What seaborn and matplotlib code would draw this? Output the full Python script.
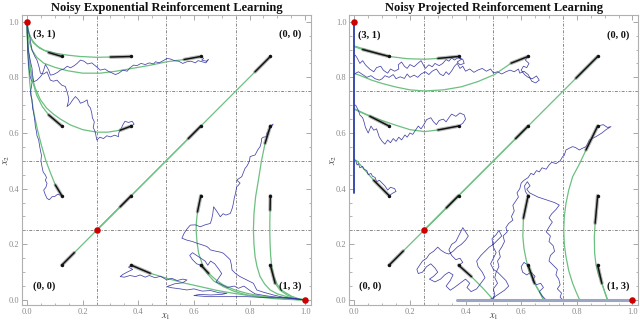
import numpy as np
import pandas as pd
import matplotlib
matplotlib.use("Agg")
import matplotlib.pyplot as plt
import seaborn as sns

# ---------------- data: left panel (exponential) ----------------
exp_title = "Noisy Exponential Reinforcement Learning"
proj_title = "Noisy Projected Reinforcement Learning"

exp_green_1 = [(0.375,0.875),(0.30,0.873),(0.25,0.872),(0.19,0.875),(0.144,0.880),(0.10,0.887),(0.06,0.898),(0.035,0.914),(0.018,0.934),(0.008,0.955),(0.003,0.975),(0,1)]
exp_green_2 = [(0.125,0.875),(0.078,0.889),(0.045,0.905),(0.022,0.925),(0.01,0.95),(0.003,0.975),(0,1)]
exp_green_3 = [(0.625,0.875),(0.565,0.864),(0.503,0.856),(0.44,0.843),(0.383,0.833),(0.32,0.822),(0.263,0.815),(0.20,0.815),(0.144,0.824),(0.10,0.836),(0.06,0.851),(0.035,0.872),(0.018,0.898),(0.009,0.925),(0.004,0.950),(0.001,0.975),(0,1)]
exp_green_4 = [(0.375,0.625),(0.335,0.610),(0.29,0.603),(0.251,0.603),(0.20,0.612),(0.156,0.629),(0.12,0.650),(0.096,0.667),(0.07,0.69),(0.048,0.72),(0.03,0.76),(0.018,0.80),(0.01,0.85),(0.004,0.91),(0.001,0.96),(0,1)]
exp_green_5 = [(0.125,0.625),(0.078,0.665),(0.055,0.695),(0.035,0.735),(0.022,0.78),(0.012,0.83),(0.005,0.89),(0.001,0.95),(0,1)]
exp_green_6 = [(0.125,0.375),(0.102,0.413),(0.085,0.455),(0.068,0.50),(0.052,0.555),(0.038,0.61),(0.026,0.665),(0.017,0.72),(0.01,0.78),(0.005,0.85),(0.002,0.92),(0,1)]
exp_green_7 = [(0.875,0.875),(0.82,0.82),(0.25,0.25)]
exp_green_8 = [(0.625,0.625),(0.58,0.58),(0.25,0.25)]
exp_green_9 = [(0.375,0.375),(0.335,0.335),(0.25,0.25)]
exp_green_10 = [(0.125,0.125),(0.17,0.17),(0.25,0.25)]
exp_green_11 = [(0.875,0.625),(0.856,0.563),(0.843,0.50),(0.832,0.431),(0.822,0.371),(0.816,0.31),(0.814,0.252),(0.816,0.20),(0.82,0.156),(0.827,0.12),(0.838,0.084),(0.854,0.058),(0.874,0.036),(0.90,0.022),(0.934,0.012),(0.965,0.005),(1,0)]
exp_green_12 = [(0.875,0.375),(0.874,0.323),(0.873,0.28),(0.873,0.24),(0.874,0.20),(0.876,0.16),(0.88,0.12),(0.887,0.085),(0.90,0.055),(0.92,0.032),(0.95,0.014),(0.975,0.005),(1,0)]
exp_green_13 = [(0.875,0.125),(0.892,0.06),(0.91,0.035),(0.935,0.018),(0.965,0.006),(1,0)]
exp_green_14 = [(0.625,0.375),(0.613,0.317),(0.609,0.28),(0.608,0.252),(0.611,0.21),(0.617,0.168),(0.63,0.13),(0.647,0.096),(0.672,0.068),(0.706,0.048),(0.745,0.031),(0.79,0.018),(0.84,0.01),(0.886,0.005),(0.94,0.002),(1,0)]
exp_green_15 = [(0.625,0.125),(0.653,0.096),(0.68,0.072),(0.706,0.054),(0.745,0.037),(0.79,0.024),(0.84,0.014),(0.886,0.008),(0.94,0.003),(1,0)]
exp_green_16 = [(0.375,0.125),(0.443,0.096),(0.503,0.078),(0.56,0.062),(0.623,0.048),(0.68,0.035),(0.742,0.024),(0.80,0.016),(0.862,0.01),(0.93,0.004),(1,0)]

exp_blue_1 = [(0.625,0.875),(0.635,0.868),(0.628,0.862),(0.645,0.858),(0.652,0.864),(0.643,0.852),(0.63,0.856),(0.615,0.86),(0.605,0.852),(0.59,0.858),(0.575,0.856),(0.56,0.85),(0.545,0.858),(0.53,0.86),(0.515,0.866),(0.503,0.868),(0.49,0.86),(0.475,0.852),(0.462,0.856),(0.455,0.848),(0.44,0.852),(0.425,0.846),(0.41,0.85),(0.395,0.842),(0.383,0.844),(0.37,0.834),(0.36,0.822),(0.345,0.826),(0.33,0.815),(0.318,0.81),(0.305,0.816),(0.292,0.822),(0.28,0.83),(0.263,0.826),(0.25,0.838),(0.24,0.846),(0.233,0.852),(0.218,0.848),(0.205,0.858),(0.192,0.862),(0.18,0.85),(0.17,0.842),(0.156,0.834),(0.145,0.84),(0.132,0.83),(0.12,0.826),(0.11,0.818),(0.095,0.81),(0.084,0.808),(0.078,0.826),(0.07,0.84),(0.066,0.846),(0.06,0.826),(0.054,0.81),(0.048,0.802),(0.036,0.79),(0.024,0.784),(0.02,0.81),(0.018,0.833),(0.014,0.85),(0.01,0.87),(0.006,0.89),(0.004,0.91),(0.002,0.935),(0.001,0.96),(0,1)]
exp_blue_2 = [(0.375,0.625),(0.385,0.632),(0.378,0.642),(0.365,0.638),(0.352,0.642),(0.345,0.63),(0.338,0.615),(0.33,0.6),(0.329,0.587),(0.315,0.592),(0.30,0.586),(0.287,0.59),(0.275,0.58),(0.262,0.585),(0.251,0.575),(0.248,0.59),(0.245,0.605),(0.238,0.62),(0.242,0.64),(0.235,0.655),(0.233,0.671),(0.228,0.69),(0.22,0.7),(0.216,0.719),(0.205,0.712),(0.192,0.707),(0.185,0.72),(0.174,0.731),(0.165,0.72),(0.155,0.705),(0.144,0.695),(0.148,0.71),(0.15,0.725),(0.145,0.745),(0.138,0.767),(0.125,0.772),(0.115,0.782),(0.108,0.79),(0.095,0.786),(0.084,0.79),(0.078,0.805),(0.072,0.82),(0.06,0.812),(0.048,0.815),(0.044,0.835),(0.036,0.862),(0.028,0.875),(0.018,0.898),(0.014,0.92),(0.01,0.946),(0.004,0.97),(0,1)]
exp_blue_3 = [(0.125,0.375),(0.11,0.38),(0.1,0.372),(0.09,0.371),(0.08,0.36),(0.072,0.365),(0.065,0.38),(0.06,0.395),(0.068,0.405),(0.072,0.419),(0.066,0.43),(0.07,0.44),(0.066,0.449),(0.058,0.46),(0.054,0.479),(0.05,0.5),(0.052,0.52),(0.048,0.539),(0.045,0.555),(0.042,0.575),(0.036,0.59),(0.034,0.605),(0.03,0.623),(0.028,0.645),(0.024,0.671),(0.02,0.69),(0.018,0.719),(0.014,0.735),(0.012,0.749),(0.016,0.765),(0.018,0.784),(0.012,0.8),(0.008,0.825),(0.006,0.844),(0.004,0.87),(0.002,0.9),(0.001,0.95),(0,1)]
exp_blue_4 = [(0.875,0.625),(0.885,0.632),(0.87,0.61),(0.862,0.598),(0.862,0.587),(0.85,0.585),(0.844,0.581),(0.842,0.565),(0.838,0.551),(0.83,0.54),(0.82,0.521),(0.81,0.518),(0.802,0.515),(0.8,0.5),(0.796,0.491),(0.79,0.48),(0.784,0.473),(0.778,0.458),(0.772,0.443),(0.76,0.435),(0.754,0.431),(0.766,0.42),(0.758,0.41),(0.754,0.407),(0.75,0.385),(0.745,0.365),(0.742,0.347),(0.738,0.33),(0.731,0.311),(0.715,0.305),(0.705,0.31),(0.695,0.299),(0.685,0.315),(0.671,0.335),(0.668,0.31),(0.664,0.29),(0.659,0.275),(0.64,0.27),(0.623,0.263),(0.605,0.27),(0.587,0.269),(0.575,0.255),(0.565,0.24),(0.557,0.222),(0.575,0.215),(0.595,0.21),(0.611,0.204),(0.63,0.198),(0.647,0.192),(0.655,0.185),(0.659,0.18),(0.68,0.175),(0.695,0.172),(0.706,0.168),(0.72,0.155),(0.731,0.144),(0.735,0.125),(0.737,0.108),(0.75,0.095),(0.766,0.084),(0.79,0.072),(0.814,0.06),(0.82,0.048),(0.826,0.036),(0.85,0.028),(0.886,0.018),(0.92,0.01),(0.96,0.006),(1,0)]
exp_blue_5 = [(0.375,0.125),(0.365,0.118),(0.38,0.11),(0.36,0.1),(0.345,0.092),(0.335,0.084),(0.35,0.082),(0.37,0.088),(0.39,0.084),(0.407,0.09),(0.425,0.082),(0.44,0.088),(0.46,0.08),(0.48,0.085),(0.503,0.072),(0.52,0.078),(0.54,0.07),(0.56,0.075),(0.575,0.072),(0.56,0.062),(0.53,0.058),(0.503,0.048),(0.52,0.044),(0.55,0.04),(0.575,0.036),(0.6,0.04),(0.63,0.032),(0.66,0.034),(0.69,0.026),(0.719,0.024),(0.7,0.02),(0.66,0.018),(0.62,0.02),(0.6,0.016),(0.65,0.012),(0.7,0.012),(0.75,0.012),(0.79,0.012),(0.83,0.01),(0.88,0.008),(0.93,0.008),(0.97,0.004),(1,0)]
exp_blue_6 = [(0.625,0.125),(0.61,0.13),(0.595,0.145),(0.585,0.16),(0.595,0.17),(0.61,0.16),(0.625,0.15),(0.64,0.14),(0.65,0.125),(0.66,0.14),(0.675,0.13),(0.69,0.11),(0.7,0.095),(0.69,0.08),(0.68,0.065),(0.7,0.055),(0.72,0.045),(0.745,0.05),(0.76,0.042),(0.78,0.05),(0.8,0.035),(0.82,0.022),(0.86,0.015),(0.9,0.01),(0.95,0.005),(1,0)]

# ---------------- data: right panel (projected) ----------------
proj_green_1 = [(0.375,0.875),(0.301,0.868),(0.253,0.865),(0.19,0.867),(0.134,0.874),(0.09,0.884),(0.05,0.897),(0.009,0.91),(0,0.912)]
proj_green_2 = [(0.125,0.875),(0.03,0.9),(0,0.91)]
proj_green_3 = [(0.625,0.875),(0.564,0.851),(0.504,0.81),(0.445,0.785),(0.385,0.766),(0.32,0.755),(0.253,0.751),(0.2,0.755),(0.146,0.766),(0.1,0.778),(0.062,0.79),(0.03,0.803),(0.009,0.811),(0,0.814)]
proj_green_4 = [(0.375,0.625),(0.301,0.611),(0.253,0.605),(0.2,0.612),(0.146,0.629),(0.1,0.645),(0.062,0.659),(0.03,0.673),(0.009,0.683),(0,0.687)]
proj_green_5 = [(0.125,0.625),(0.056,0.66),(0,0.685)]
proj_green_6 = [(0.125,0.375),(0.07,0.43),(0.035,0.47),(0.009,0.5),(0,0.505)]
proj_green_7 = [(0.875,0.875),(0.797,0.797),(0.25,0.25)]
proj_green_8 = [(0.625,0.625),(0.58,0.58),(0.25,0.25)]
proj_green_9 = [(0.375,0.375),(0.331,0.331),(0.25,0.25)]
proj_green_10 = [(0.125,0.125),(0.176,0.176),(0.25,0.25)]
proj_green_11 = [(0.875,0.625),(0.833,0.539),(0.81,0.49),(0.785,0.443),(0.771,0.395),(0.761,0.347),(0.755,0.30),(0.753,0.252),(0.755,0.20),(0.761,0.156),(0.771,0.105),(0.785,0.06),(0.797,0.03),(0.809,0.003),(0.81,0)]
proj_green_12 = [(0.875,0.375),(0.866,0.276),(0.863,0.228),(0.864,0.17),(0.869,0.126),(0.878,0.09),(0.89,0.06),(0.9,0.03),(0.91,0.003),(0.911,0)]
proj_green_13 = [(0.875,0.125),(0.89,0.06),(0.9,0.03),(0.91,0)]
proj_green_14 = [(0.625,0.375),(0.608,0.294),(0.606,0.228),(0.61,0.185),(0.618,0.144),(0.628,0.105),(0.642,0.072),(0.66,0.04),(0.677,0.012),(0.68,0)]
proj_green_15 = [(0.625,0.125),(0.648,0.06),(0.665,0.03),(0.68,0)]
proj_green_16 = [(0.375,0.125),(0.421,0.084),(0.46,0.045),(0.498,0.003),(0.5,0)]

proj_wall = [(0,1.0),(0,0.383)]
proj_floor = [(0.37,0),(1.0,0)]

proj_blue_1 = [(0.625,0.875),(0.615,0.862),(0.628,0.85),(0.62,0.835),(0.608,0.84),(0.6,0.826),(0.612,0.81),(0.625,0.8),(0.64,0.795),(0.655,0.805),(0.665,0.79),(0.652,0.78),(0.638,0.786),(0.625,0.81),(0.61,0.822),(0.595,0.815),(0.59,0.83),(0.575,0.82),(0.56,0.826),(0.545,0.82),(0.53,0.812),(0.515,0.82),(0.5,0.816),(0.49,0.83),(0.475,0.822),(0.46,0.832),(0.444,0.826),(0.43,0.818),(0.415,0.83),(0.4,0.822),(0.39,0.84),(0.38,0.832),(0.37,0.85),(0.36,0.84),(0.352,0.826),(0.34,0.81),(0.33,0.82),(0.32,0.806),(0.308,0.812),(0.295,0.83),(0.28,0.822),(0.268,0.81),(0.255,0.82),(0.24,0.812),(0.228,0.8),(0.215,0.808),(0.2,0.8),(0.19,0.812),(0.18,0.796),(0.165,0.802),(0.15,0.795),(0.14,0.81),(0.125,0.8),(0.11,0.806),(0.1,0.795),(0.09,0.79),(0.075,0.795),(0.06,0.806),(0.045,0.8),(0.03,0.81),(0.015,0.82),(0.005,0.815),(0,0.81)]
proj_blue_2 = [(0.375,0.875),(0.385,0.865),(0.37,0.855),(0.38,0.845),(0.395,0.85),(0.39,0.865),(0.372,0.87),(0.36,0.862),(0.35,0.87),(0.34,0.858),(0.33,0.864),(0.318,0.85),(0.305,0.842),(0.29,0.85),(0.28,0.838),(0.268,0.845),(0.255,0.832),(0.248,0.845),(0.24,0.86),(0.228,0.85),(0.215,0.838),(0.2,0.846),(0.19,0.832),(0.18,0.84),(0.17,0.855),(0.158,0.845),(0.16,0.83),(0.145,0.822),(0.13,0.83),(0.12,0.815),(0.105,0.825),(0.095,0.84),(0.08,0.835),(0.07,0.82),(0.055,0.83),(0.04,0.845),(0.03,0.86),(0.02,0.85),(0.01,0.87),(0.003,0.88),(0,0.875)]
proj_blue_3 = [(0.375,0.625),(0.39,0.635),(0.4,0.65),(0.395,0.665),(0.38,0.672),(0.365,0.66),(0.35,0.668),(0.34,0.655),(0.33,0.64),(0.32,0.65),(0.305,0.645),(0.295,0.63),(0.285,0.64),(0.275,0.655),(0.26,0.648),(0.25,0.63),(0.24,0.615),(0.23,0.625),(0.22,0.61),(0.21,0.595),(0.2,0.6),(0.19,0.585),(0.182,0.593),(0.17,0.575),(0.16,0.585),(0.15,0.57),(0.14,0.58),(0.13,0.565),(0.12,0.575),(0.11,0.56),(0.1,0.57),(0.09,0.585),(0.085,0.6),(0.08,0.615),(0.07,0.61),(0.06,0.625),(0.05,0.6),(0.04,0.62),(0.035,0.64),(0.03,0.655),(0.02,0.665),(0.015,0.68),(0.01,0.69),(0.005,0.7),(0,0.7)]
proj_blue_4 = [(0.125,0.375),(0.14,0.385),(0.15,0.39),(0.145,0.4),(0.13,0.405),(0.12,0.395),(0.11,0.41),(0.1,0.42),(0.09,0.43),(0.08,0.425),(0.075,0.44),(0.065,0.445),(0.06,0.455),(0.05,0.45),(0.045,0.465),(0.035,0.47),(0.03,0.48),(0.02,0.475),(0.015,0.49),(0.01,0.485),(0.005,0.5),(0,0.5)]
proj_blue_5 = [(0.875,0.625),(0.895,0.63),(0.91,0.62),(0.923,0.623),(0.905,0.612),(0.89,0.6),(0.869,0.587),(0.855,0.58),(0.845,0.575),(0.838,0.56),(0.833,0.551),(0.82,0.545),(0.809,0.539),(0.795,0.548),(0.785,0.551),(0.772,0.545),(0.761,0.539),(0.755,0.52),(0.749,0.515),(0.74,0.5),(0.725,0.49),(0.71,0.495),(0.7,0.485),(0.69,0.47),(0.675,0.475),(0.665,0.46),(0.655,0.465),(0.645,0.45),(0.635,0.455),(0.625,0.44),(0.61,0.43),(0.6,0.42),(0.595,0.4),(0.585,0.385),(0.59,0.37),(0.58,0.355),(0.57,0.34),(0.575,0.32),(0.565,0.3),(0.57,0.287),(0.555,0.275),(0.545,0.26),(0.55,0.245),(0.535,0.23),(0.54,0.21),(0.53,0.19),(0.52,0.175),(0.525,0.155),(0.515,0.14),(0.52,0.12),(0.51,0.1),(0.505,0.08),(0.515,0.06),(0.5,0.04),(0.505,0.02),(0.5,0.0)]
proj_blue_6 = [(0.625,0.375),(0.615,0.39),(0.612,0.41),(0.622,0.425),(0.632,0.41),(0.62,0.398),(0.63,0.385),(0.66,0.37),(0.69,0.36),(0.72,0.35),(0.737,0.341),(0.725,0.325),(0.71,0.31),(0.7,0.295),(0.712,0.28),(0.7,0.262),(0.69,0.245),(0.705,0.23),(0.7,0.21),(0.715,0.195),(0.72,0.175),(0.705,0.16),(0.7,0.14),(0.715,0.125),(0.73,0.11),(0.725,0.09),(0.735,0.075),(0.74,0.055),(0.73,0.04),(0.745,0.025),(0.74,0.01),(0.75,0)]
proj_blue_7 = [(0.375,0.125),(0.39,0.135),(0.38,0.15),(0.365,0.145),(0.35,0.16),(0.34,0.18),(0.35,0.2),(0.365,0.21),(0.38,0.24),(0.39,0.26),(0.4,0.245),(0.41,0.23),(0.4,0.215),(0.385,0.2),(0.37,0.19),(0.355,0.175),(0.34,0.165),(0.325,0.17),(0.31,0.18),(0.3,0.19),(0.285,0.175),(0.27,0.165),(0.26,0.15),(0.245,0.14),(0.235,0.125),(0.225,0.11),(0.23,0.095),(0.245,0.1),(0.26,0.12),(0.275,0.13),(0.29,0.115),(0.3,0.1),(0.285,0.085),(0.27,0.075),(0.29,0.065),(0.31,0.075),(0.325,0.09),(0.34,0.1),(0.355,0.09),(0.345,0.07),(0.33,0.05),(0.345,0.035),(0.36,0.045),(0.38,0.06),(0.4,0.075),(0.415,0.06),(0.405,0.045),(0.42,0.03),(0.44,0.04),(0.455,0.06),(0.47,0.08),(0.46,0.1),(0.445,0.12),(0.44,0.14),(0.455,0.16),(0.47,0.175),(0.485,0.19),(0.5,0.2),(0.515,0.215),(0.53,0.23),(0.52,0.25),(0.51,0.235),(0.495,0.22),(0.5,0.19),(0.51,0.17),(0.5,0.15),(0.49,0.13),(0.5,0.11),(0.515,0.1),(0.53,0.085),(0.545,0.07),(0.555,0.05),(0.54,0.035),(0.525,0.025),(0.51,0.015),(0.495,0.005),(0.48,0.0)]
proj_blue_8 = [(0.625,0.125),(0.61,0.135),(0.6,0.12),(0.605,0.1),(0.62,0.09),(0.635,0.1),(0.65,0.085),(0.64,0.07),(0.655,0.055),(0.67,0.06),(0.68,0.045),(0.665,0.03),(0.675,0.015),(0.69,0.0)]

rest_points = [(0.0,1.0),(0.25,0.25),(1.0,0.0)]
corner_labels = ["(3, 1)", "(0, 0)", "(0, 0)", "(1, 3)"]
tick_values = [0.0, 0.2, 0.4, 0.6, 0.8, 1.0]
grid_values = [0.25, 0.5, 0.75]

exp_green = [exp_green_1, exp_green_2, exp_green_3, exp_green_4, exp_green_5, exp_green_6, exp_green_7, exp_green_8,
             exp_green_9, exp_green_10, exp_green_11, exp_green_12, exp_green_13, exp_green_14, exp_green_15, exp_green_16]
exp_blue = [exp_blue_1, exp_blue_2, exp_blue_3, exp_blue_4, exp_blue_5, exp_blue_6]
proj_green = [proj_green_1, proj_green_2, proj_green_3, proj_green_4, proj_green_5, proj_green_6, proj_green_7, proj_green_8,
              proj_green_9, proj_green_10, proj_green_11, proj_green_12, proj_green_13, proj_green_14, proj_green_15, proj_green_16]
proj_blue = [proj_blue_1, proj_blue_2, proj_blue_3, proj_blue_4, proj_blue_5, proj_blue_6, proj_blue_7, proj_blue_8]

# ---------------- style ----------------
sns.set_theme(style="white")
plt.rcParams["font.family"] = ["Liberation Serif", "DejaVu Serif"]
plt.rcParams["mathtext.fontset"] = "stix"

GREEN = "#6cc080"
BLUE = "#2f2fa0"
GRID = "#8a8a8a"
TICKC = "#999999"


def to_df(paths):
    rows = []
    for i, p in enumerate(paths):
        for j, (x, y) in enumerate(p):
            rows.append((i, j, x, y))
    return pd.DataFrame(rows, columns=["path", "step", "x", "y"])


def draw_panel(ax, title, greens, blues, label_pos, extra=None):
    for g in grid_values:
        ax.axvline(g, color=GRID, lw=0.7, ls=(0, (3, 1.5, 1, 1.5)), zorder=0)
        ax.axhline(g, color=GRID, lw=0.7, ls=(0, (3, 1.5, 1, 1.5)), zorder=0)

    gdf = to_df(greens)
    bdf = to_df(blues)
    sns.lineplot(data=gdf, x="x", y="y", units="path", estimator=None, sort=False,
                 color=GREEN, lw=0.9, ax=ax, zorder=2)
    sns.lineplot(data=bdf, x="x", y="y", units="path", estimator=None, sort=False,
                 color=BLUE, lw=0.55, alpha=0.9, ax=ax, zorder=3)
    if extra is not None:
        for seg, col, lw in extra:
            sdf = pd.DataFrame(seg, columns=["x", "y"])
            sns.lineplot(data=sdf, x="x", y="y", sort=False, estimator=None, color=col, lw=lw, ax=ax, zorder=3)
    # black direction arrows: first step of every trajectory
    adf = gdf[gdf["step"] <= 1]
    sns.lineplot(data=adf, x="x", y="y", units="path", estimator=None, sort=False,
                 color="#6a6a6a", lw=2.6, alpha=0.5, ax=ax, zorder=4)
    sns.lineplot(data=adf, x="x", y="y", units="path", estimator=None, sort=False,
                 color="#111111", lw=1.0, ax=ax, zorder=5)
    sdf = gdf[gdf["step"] == 0]
    sns.scatterplot(data=sdf, x="x", y="y", color="#111111", s=6, linewidth=0, ax=ax, zorder=6)
    rdf = pd.DataFrame(rest_points, columns=["x", "y"])
    sns.scatterplot(data=rdf, x="x", y="y", color="#cc0000", s=22, linewidth=0, marker="o", ax=ax,
                    zorder=7, clip_on=False)

    for (lx, ly, ha), txt in zip(label_pos, corner_labels):
        ax.text(lx, ly, txt, ha=ha, va="center", fontsize=7.5, fontweight="bold", color="#111111")

    ax.set_xlim(-0.018, 1.02)
    ax.set_ylim(-0.018, 1.024)
    ax.set_xticks(tick_values)
    ax.set_yticks(tick_values)
    ax.set_xticklabels([f"{v:.1f}" for v in tick_values])
    ax.set_yticklabels([f"{v:.1f}" for v in tick_values])
    ax.set_xticks(np.arange(0, 1.0001, 0.05), minor=True)
    ax.set_yticks(np.arange(0, 1.0001, 0.05), minor=True)
    ax.tick_params(which="both", direction="in", top=True, right=True, bottom=True, left=True,
                   color=TICKC, labelsize=6, labelcolor="#8a8a8a", pad=2)
    ax.tick_params(which="major", length=3.5, width=0.6)
    ax.tick_params(which="minor", length=1.8, width=0.5)
    for s in ax.spines.values():
        s.set_color("#b0b0b0")
        s.set_linewidth(0.8)
    ax.set_xlabel(r"$x_1$", fontsize=7.5, color="#444444")
    ax.set_ylabel(r"$x_2$", fontsize=7.5, color="#444444")
    ax.xaxis.set_label_coords(0.5, -0.022)
    ax.yaxis.set_label_coords(-0.035, 0.5)
    ax.set_title(title, fontsize=9, fontweight="bold", pad=3, color="#111111")
    legend = ax.get_legend()
    if legend is not None:
        legend.remove()


fig = plt.figure(figsize=(6.4, 3.26), dpi=100)
ax1 = fig.add_axes([22 / 640, 21 / 326, 288.7 / 640, 290 / 326])
ax2 = fig.add_axes([349.3 / 640, 21 / 326, 288.7 / 640, 290 / 326])

draw_panel(ax1, exp_title, exp_green, exp_blue,
           [(0.02, 0.956, "left"), (0.987, 0.956, "right"), (0.02, 0.048, "left"), (0.987, 0.048, "right")])
draw_panel(ax2, proj_title, proj_green, proj_blue,
           [(0.015, 0.952, "left"), (0.988, 0.952, "right"), (0.018, 0.048, "left"), (0.99, 0.048, "right")],
           extra=[(proj_floor, "#9aa6c4", 2.2), (proj_wall, "#2b3fa8", 1.3)])

fig.savefig("out.png", dpi=100)
